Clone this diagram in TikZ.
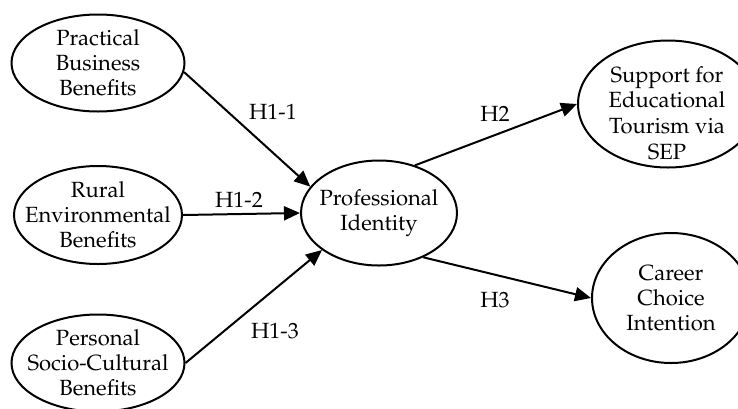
\documentclass[tikz,border=0pt]{standalone}
\usepackage[T1]{fontenc}
\usepackage{mathpazo}
\usepackage{tikz}
\usetikzlibrary{shapes.geometric, arrows.meta}
\tikzstyle{construct} = [ellipse, draw, line width=1pt, inner sep=-8pt, align=center, font=\fontsize{11}{12.5}\selectfont]
\tikzstyle{hyparrow} = [line width=1pt, -{Triangle[length=8pt,width=7pt]}]
\tikzstyle{hyplabel} = [font=\fontsize{11}{12.5}\selectfont]

\begin{document}
\begin{tikzpicture}[x=0.5pt, y=-0.5pt]
  \useasboundingbox (0,0) rectangle (738,408);

  % Benefit constructs
  \node[construct, minimum width=86.5pt, minimum height=48.5pt] (prac) at (98,63) {Practical\\Business\\Benefits};
  \node[construct, minimum width=84pt, minimum height=49pt] (rural) at (98,215) {Rural\\Environmental\\Benefits};
  \node[construct, minimum width=86.5pt, minimum height=48.5pt] (pers) at (98,363) {Personal\\Socio-Cultural\\Benefits};

  % Mediator
  \node[construct, minimum width=78pt, minimum height=52.5pt] (prof) at (379,213) {Professional\\Identity};

  % Outcomes
  \node[construct, minimum width=90pt, minimum height=63.5pt] (supp) at (668,104) {};
  \node[align=center, font=\fontsize{11}{12.8}\selectfont] (supptext) at (667,113) {Support for\\Educational\\Tourism via\\SEP};
  \node[construct, minimum width=79pt, minimum height=65pt] (career) at (671,298) {Career\\Choice\\Intention};

  % Paths
  \draw[hyparrow] (prac.-6) -- (prof.159);
  \draw[hyparrow] (rural.east) -- (prof.west);
  \draw[hyparrow] (pers.east) -- (prof.213);
  \draw[hyparrow] (prof.53) -- (supp.west);
  \draw[hyparrow] (prof.-45) -- (career.west);

  % Hypothesis labels
  \node[hyplabel] (h11) at (273,112) {H1-1};
  \node[hyplabel] (h12) at (239,200) {H1-2};
  \node[hyplabel] (h13) at (275,331) {H1-3};
  \node[hyplabel] (h2) at (495,114) {H2};
  \node[hyplabel] (h3) at (495,300) {H3};
\end{tikzpicture}
\end{document}
